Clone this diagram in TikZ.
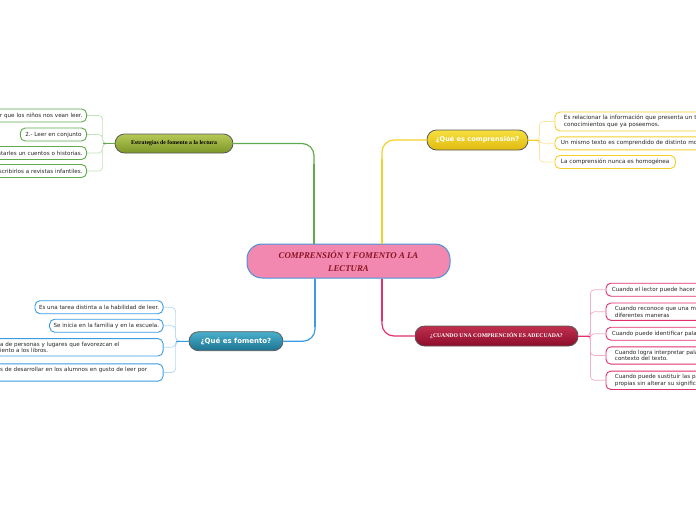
\documentclass[tikz,border=0pt]{standalone}
\usepackage{fontspec}
\setmainfont{Liberation Serif}
\newfontfamily\dvs{DejaVu Sans}
\usetikzlibrary{calc}
\definecolor{cpink}{HTML}{F288B0}
\definecolor{cblue}{HTML}{4A92D8}
\definecolor{cdred}{HTML}{8A1420}
\definecolor{lgreen}{HTML}{5FAA4C}
\definecolor{lgreenl}{HTML}{C4E2BA}
\definecolor{lyellow}{HTML}{F4CF2A}
\definecolor{lyellowl}{HTML}{F8E6A0}
\definecolor{lblue}{HTML}{3A9CE2}
\definecolor{lbluel}{HTML}{B2D8F4}
\definecolor{lred}{HTML}{E2306C}
\definecolor{lredl}{HTML}{F4AEC6}
\definecolor{mgray}{HTML}{5A5A5A}
\definecolor{estt}{HTML}{B5C957}
\definecolor{estb}{HTML}{7C9628}
\definecolor{compt}{HTML}{F7E040}
\definecolor{compb}{HTML}{E0BA10}
\definecolor{fomt}{HTML}{4AB0CC}
\definecolor{fomb}{HTML}{1D7390}
\definecolor{cuat}{HTML}{C0304F}
\definecolor{cuab}{HTML}{8C0C2A}
\tikzset{
  cen/.style={rounded corners=15pt, fill=cpink, draw=cblue, line width=1pt,
    minimum width=203pt, minimum height=34pt, inner sep=0pt, align=center,
    text=cdred, font=\bfseries\itshape\fontsize{8.8}{12.7}\selectfont},
  mainn/.style={rounded corners=9.5pt, draw=mgray, line width=0.8pt, inner sep=0pt,
    minimum height=19pt},
  leaf/.style={rounded corners=5pt, fill=white, line width=0.9pt, inner ysep=3.2pt,
    inner xsep=6pt, minimum height=13pt, text=black!85,
    font=\dvs\fontsize{5.6}{6.6}\selectfont},
  leafy/.style={leaf, draw=lyellow, font=\dvs\fontsize{5.7}{6.8}\selectfont},
  mline/.style={line width=1.2pt, rounded corners=12pt},
  brk/.style={line width=0.7pt, rounded corners=4pt},
}
\begin{document}
\begin{tikzpicture}[x=1pt,y=-1pt]
\useasboundingbox (0,0) rectangle (696,520);
\clip (0,0) rectangle (696,520);

% central node
\node[cen] (cen) at (348.5,261) {COMPRENSIÓN Y FOMENTO A LA\\LECTURA};

% main topic nodes
\node[mainn, top color=estt, bottom color=estb,
  minimum width=118pt, text=black, font=\bfseries\fontsize{5.8}{7}\selectfont]
  (est) at (174,143.5) {Estrategias de fomento a la lectura};
\node[mainn, top color=compt, bottom color=compb,
  minimum width=101pt, minimum height=20pt, text=white, font=\dvs\bfseries\fontsize{6.6}{8}\selectfont]
  (comp) at (477.5,140) {¿Qué es comprensión?};
\node[mainn, top color=fomt, bottom color=fomb,
  minimum width=94pt, text=white, font=\dvs\bfseries\fontsize{7}{8}\selectfont]
  (fom) at (236,341.2) {¿Qué es fomento?};
\node[mainn, top color=cuat, bottom color=cuab,
  minimum width=163pt, minimum height=20pt, text=white, font=\bfseries\fontsize{5.7}{7}\selectfont]
  (cua) at (496.5,336) {¿CUANDO UNA COMPRENCIÓN ES ADECUADA?};

% main connectors
\draw[mline, lgreen] ($(cen.north)+(-34.5,0)$) |- (est.east);
\draw[mline, lyellow] ($(cen.north)+(33.5,0)$) |- (comp.west);
\draw[mline, lblue] ($(cen.south)+(-33.5,0)$) |- (fom.east);
\draw[mline, lred] ($(cen.south)+(33.5,0)$) |- (cua.west);
\draw[line width=1.9pt, lgreen] ($(cen.north)+(-34.5,0)$) -- ++(0,-80);
\draw[line width=1.9pt, lyellow] ($(cen.north)+(33.5,0)$) -- ++(0,-85);
\draw[line width=1.9pt, lblue] ($(cen.south)+(-33.5,0)$) -- ++(0,48);
\draw[line width=1.9pt, lred] ($(cen.south)+(33.5,0)$) -- ++(0,42);

% green leaves
\node[leaf, draw=lgreen, anchor=east, inner xsep=4pt, text width=130pt, align=right] (g1) at (87,115.5) {r que los niños nos vean leer.};
\node[leaf, draw=lgreen, anchor=east, inner xsep=5pt] (g2) at (87,134.5) {2.- Leer en conjunto};
\node[leaf, draw=lgreen, anchor=east, inner xsep=4pt, text width=130pt, align=right] (g3) at (87,153) {ntarles un cuentos o historias.};
\node[leaf, draw=lgreen, anchor=east, inner xsep=4pt, text width=130pt, align=right] (g4) at (87,171) {scribirlos a revistas infantiles.};
\foreach \n in {g1,g2,g3,g4}{\draw[brk, lgreenl] (est.west) -- ++(-12,0) |- (\n.east);}
\draw[line width=0.8pt, lgreen] (est.west) -- ++(-12,0);

% yellow leaves
\node[leafy, anchor=west, text width=200pt, align=left, inner xsep=9pt] (y1) at (554.5,121.5) {Es relacionar la información que presenta un texto\\conocimientos que ya poseemos.};
\node[leafy, anchor=west, text width=200pt, align=left] (y2) at (554.5,143.3) {Un mismo texto es comprendido de distinto modo};
\node[leafy, anchor=west] (y3) at (554.5,162) {La comprensión nunca es homogénea};
\foreach \n in {y1,y2,y3}{\draw[brk, lyellowl] (comp.east) -- ++(11,0) |- (\n.west);}
\draw[line width=0.8pt, lyellow] (comp.east) -- ++(11,0);

% red leaves
\node[leaf, draw=lred, anchor=west, text width=150pt, align=left] (r1) at (605.5,289.7) {Cuando el lector puede hacer};
\node[leaf, draw=lred, anchor=west, text width=150pt, align=left, inner xsep=9pt] (r2) at (605.5,311.7) {Cuando reconoce que una misma\\diferentes maneras};
\node[leaf, draw=lred, anchor=west, text width=150pt, align=left] (r3) at (605.5,333.7) {Cuando puede identificar palabras};
\node[leaf, draw=lred, anchor=west, text width=150pt, align=left, inner xsep=9pt] (r4) at (605.5,355.5) {Cuando logra interpretar palabras\\contexto del texto.};
\node[leaf, draw=lred, anchor=west, text width=150pt, align=left, inner xsep=9pt] (r5) at (605.5,380.3) {Cuando puede sustituir las palabras\\propias sin alterar su significado};
\foreach \n in {r1,r2,r3,r4,r5}{\draw[brk, lredl] (cua.east) -- ++(12,0) |- (\n.west);}
\draw[line width=0.8pt, lred] (cua.east) -- ++(12,0);

% blue leaves
\node[leaf, draw=lblue, anchor=east, inner xsep=4pt] (b1) at (163.5,307.2) {Es una tarea distinta a la habilidad de leer.};
\node[leaf, draw=lblue, anchor=east, inner xsep=4pt] (b2) at (163.5,325.7) {Se inicia en la familia y en la escuela.};
\node[leaf, draw=lblue, anchor=east, text width=158pt, align=left, inner xsep=5pt] (b3) at (163.5,347.3) {a de personas y lugares que favorezcan el\\iento a los libros.};
\node[leaf, draw=lblue, anchor=east, text width=158pt, align=left, inner xsep=5pt] (b4) at (163.5,372.5) {s de desarrollar en los alumnos en gusto de leer por\\\mbox{}};
\foreach \n in {b1,b2,b3,b4}{\draw[brk, lbluel] (fom.west) -- ++(-13,0) |- (\n.east);}
\draw[line width=0.8pt, lblue] (fom.west) -- ++(-13,0);
\end{tikzpicture}
\end{document}
